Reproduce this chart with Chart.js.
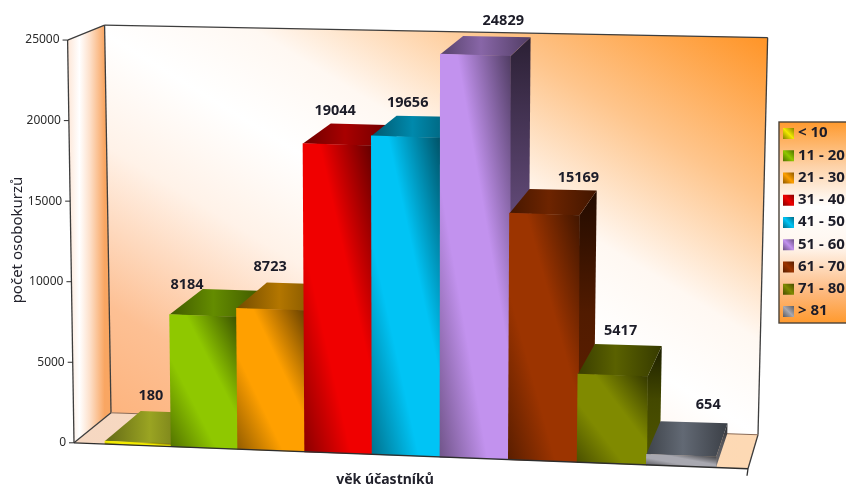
<!DOCTYPE html>
<html>
<head>
<meta charset="utf-8">
<style>
  html, body { margin: 0; padding: 0; background: #fff; overflow: hidden; }
  canvas { display: block; }
</style>
<script src="https://cdn.jsdelivr.net/npm/chart.js@4/dist/chart.umd.js"></script>
</head>
<body>
<canvas id="ageChart" width="846" height="486"></canvas>
<script>
const categories = ["< 10", "11 - 20", "21 - 30", "31 - 40", "41 - 50", "51 - 60", "61 - 70", "71 - 80", "> 81"];
const counts = [180, 8184, 8723, 19044, 19656, 24829, 15169, 5417, 654];
const yTicks = [0, 5000, 10000, 15000, 20000, 25000];
const seriesColors = ["#f2ea00", "#8fc800", "#ffa000", "#f00000", "#00c4f5", "#c292ee", "#9c3400", "#808a00", "#a8a8b0"];
const topColors = ["#dcea30", "#8fc800", "#ffa800", "#f00000", "#00c4f5", "#c292ee", "#9c3400", "#808a00", "#8c96a6"];

// small offsets of the value labels from the middle of each bar's top edge
const labelShiftX = [13, -16, 0, -2, 2, 28, 34, 8, 27];
const labelShiftY = [-47, -31, -43, -34, -34, -34, -36, -45, -51];

const FRONT_LEFT = 74;
const FRONT_RIGHT = 748;

const shade = (hex, f) => {
  const n = parseInt(hex.slice(1), 16);
  const c = [n >> 16, (n >> 8) & 255, n & 255].map((v) => Math.round(v * f));
  return `rgb(${c[0]},${c[1]},${c[2]})`;
};

// gradient whose bands run along the top-left to bottom-right diagonal of a box
const diagonalGradient = (ctx, x, y, w, h, stops) => {
  const len = Math.hypot(w, h);
  const ext = (w * h) / len;
  const nx = h / len;
  const ny = -w / len;
  const cx = x + w / 2;
  const cy = y + h / 2;
  const g = ctx.createLinearGradient(cx - nx * ext, cy - ny * ext, cx + nx * ext, cy + ny * ext);
  stops.forEach(([at, col]) => g.addColorStop(at, col));
  return g;
};

// chart pixels -> tilted box; d is the depth, 0 front plane and 1 back wall
const project = (chart, x, y, d) => {
  const yScale = chart.scales.y;
  const area = chart.chartArea;
  const base = yScale.getPixelForValue(0);
  const h = (base - y) / (base - yScale.getPixelForValue(25000));
  const t = (x - FRONT_LEFT) / (FRONT_RIGHT - FRONT_LEFT);
  const u = Math.min(1, Math.max(0, (x - area.left) / (area.right - area.left)));
  const lean = x < 430 ? 0.018 : 0.024;
  return {
    x: x - 18 * u * (1 - u) + lean * (x - 430) * h + d * (37 - 27 * t + 2 * t * t * h),
    y: y + (0.0385 - 0.008 * h) * (x - 105) - d * ((30 + 4 * t) * (1 - 0.5 * h) + 6 * t * t * h)
  };
};

const poly = (ctx, pts, fill) => {
  ctx.beginPath();
  pts.forEach((p, i) => (i ? ctx.lineTo(p.x, p.y) : ctx.moveTo(p.x, p.y)));
  ctx.closePath();
  ctx.fillStyle = fill;
  ctx.fill();
};

const line = (ctx, a, b) => {
  ctx.beginPath();
  ctx.moveTo(a.x, a.y);
  ctx.lineTo(b.x, b.y);
  ctx.stroke();
};

const frontFill = (context) => {
  const { chart, datasetIndex } = context;
  const color = seriesColors[datasetIndex];
  if (!chart.chartArea) return color;
  const { x, y } = chart.scales;
  const w = x.width / categories.length;
  const top = y.getPixelForValue(counts[datasetIndex]);
  const h = y.getPixelForValue(0) - top;
  return diagonalGradient(chart.ctx, x.getPixelForValue(datasetIndex) - w / 2, top, w, h, [
    [0, shade(color, 0.58)],
    [0.34, color],
    [0.62, color],
    [1, shade(color, 0.42)]
  ]);
};

const box3d = {
  id: "box3d",

  // walls and floor behind the bars
  beforeDatasetsDraw(chart) {
    const { ctx } = chart;
    const y = chart.scales.y;
    const y0 = y.getPixelForValue(0);
    const yMax = y.getPixelForValue(25000);
    const fl0 = project(chart, FRONT_LEFT, y0, 0);
    const fr0 = project(chart, FRONT_RIGHT, y0, 0);
    const flT = project(chart, FRONT_LEFT, yMax, 0);
    const bl0 = project(chart, FRONT_LEFT, y0, 1);
    const br0 = project(chart, FRONT_RIGHT, y0, 1);
    const blT = project(chart, FRONT_LEFT, yMax, 1);
    const brT = project(chart, FRONT_RIGHT, yMax, 1);

    const wallGrad = diagonalGradient(ctx, bl0.x, brT.y, br0.x - bl0.x, br0.y - brT.y, [
      [0, "#fdb27a"],
      [0.16, "#fdc094"],
      [0.36, "#fff2e8"],
      [0.5, "#ffffff"],
      [0.62, "#fff8f2"],
      [0.8, "#fec58c"],
      [1, "#ff962a"]
    ]);
    poly(ctx, [blT, brT, br0, bl0], wallGrad);

    const sideGrad = ctx.createLinearGradient(flT.x, 0, blT.x, 0);
    sideGrad.addColorStop(0, "#fde6d6");
    sideGrad.addColorStop(0.32, "#ffffff");
    sideGrad.addColorStop(0.6, "#fde0ca");
    sideGrad.addColorStop(1, "#f9a662");
    poly(ctx, [flT, blT, bl0, fl0], sideGrad);

    const floorGrad = ctx.createLinearGradient(fl0.x, 0, fr0.x, 0);
    floorGrad.addColorStop(0, "#f6d8c2");
    floorGrad.addColorStop(1, "#fdd9b4");
    poly(ctx, [fl0, bl0, br0, fr0], floorGrad);

    ctx.strokeStyle = "#3d3d3d";
    ctx.lineWidth = 1.3;
    line(ctx, flT, blT);
    line(ctx, blT, brT);
    line(ctx, brT, br0);
    line(ctx, blT, bl0);
    line(ctx, flT, fl0);
    line(ctx, fl0, bl0);
    line(ctx, br0, fr0);
    ctx.strokeStyle = "#8a6a55";
    ctx.lineWidth = 1;
    line(ctx, bl0, br0);
  },

  // top and side of one bar, then tilt the context for the native front face
  beforeDatasetDraw(chart, args) {
    const { ctx } = chart;
    const bar = args.meta.data[args.index];
    const color = seriesColors[args.index];
    const topColor = topColors[args.index];
    const xL = bar.x - bar.width / 2;
    const xR = bar.x + bar.width / 2;
    const tl = project(chart, xL, bar.y, 0);
    const tr = project(chart, xR, bar.y, 0);
    const bl = project(chart, xL, bar.base, 0);
    const backL = project(chart, xL, bar.y, 1);
    const backR = project(chart, xR, bar.y, 1);
    const backB = project(chart, xR, bar.base, 1);
    const br = project(chart, xR, bar.base, 0);

    const sideGrad = ctx.createLinearGradient(0, backR.y, 0, br.y);
    sideGrad.addColorStop(0, shade(color, 0.22));
    sideGrad.addColorStop(0.45, shade(color, 0.52));
    sideGrad.addColorStop(1, shade(color, 0.62));
    poly(ctx, [tr, backR, backB, br], sideGrad);

    const topGrad = ctx.createLinearGradient(tl.x, 0, backR.x, 0);
    topGrad.addColorStop(0, shade(topColor, 0.45));
    topGrad.addColorStop(0.45, shade(topColor, 0.7));
    topGrad.addColorStop(1, shade(topColor, 0.42));
    poly(ctx, [tl, backL, backR, tr], topGrad);

    const w = xR - xL;
    const hgt = bar.base - bar.y;
    const a = (tr.x - tl.x) / w;
    const b = (tr.y - tl.y) / w;
    const c = (bl.x - tl.x) / hgt;
    const d = (bl.y - tl.y) / hgt;
    ctx.save();
    ctx.transform(a, b, c, d, tl.x - a * xL - c * bar.y, tl.y - b * xL - d * bar.y);
  },

  afterDatasetDraw(chart) {
    chart.ctx.restore();
  },

  afterDatasetsDraw(chart) {
    const { ctx } = chart;
    const y = chart.scales.y;
    const y0 = y.getPixelForValue(0);
    const fl0 = project(chart, FRONT_LEFT, y0, 0);
    const fr0 = project(chart, FRONT_RIGHT, y0, 0);

    ctx.strokeStyle = "#2e2e2e";
    ctx.lineWidth = 1.3;
    line(ctx, fl0, fr0);
    line(ctx, fr0, { x: fr0.x - 1, y: fr0.y + 7 });

    // y axis ticks follow the leaning front edge
    ctx.textAlign = "right";
    ctx.textBaseline = "middle";
    ctx.font = "12px 'Noto Sans'";
    yTicks.forEach((v) => {
      const p = project(chart, FRONT_LEFT, y.getPixelForValue(v), 0);
      ctx.strokeStyle = "#2e2e2e";
      ctx.lineWidth = 1;
      line(ctx, { x: p.x - 5, y: p.y }, p);
      ctx.fillStyle = "#2b2b2b";
      ctx.fillText(String(v), p.x - 8, p.y);
    });

    // value labels
    ctx.textAlign = "center";
    ctx.font = "bold 14.5px 'Noto Sans'";
    ctx.fillStyle = "#1c1c28";
    chart.data.datasets.forEach((ds, i) => {
      const bar = chart.getDatasetMeta(i).data[i];
      const p = project(chart, bar.x, bar.y, 0);
      ctx.fillText(String(counts[i]), p.x + labelShiftX[i], p.y + labelShiftY[i]);
    });

    // axis titles
    ctx.font = "bold 14px 'Noto Sans'";
    ctx.fillStyle = "#22222c";
    ctx.fillText("věk účastníků", 385, 480);
    ctx.save();
    ctx.translate(18, 240);
    ctx.rotate(-Math.PI / 2);
    ctx.font = "15px 'Noto Sans'";
    ctx.fillText("počet osobokurzů", 0, 0);
    ctx.restore();

    // legend box, runs off the right edge of the page
    const lg = ctx.createLinearGradient(0, 122, 0, 323);
    lg.addColorStop(0, "#ff9a2e");
    lg.addColorStop(0.22, "#fdd2a8");
    lg.addColorStop(0.42, "#ffffff");
    lg.addColorStop(0.62, "#fff6ee");
    lg.addColorStop(0.85, "#fdb87c");
    lg.addColorStop(1, "#ff9a2e");
    ctx.fillStyle = lg;
    ctx.fillRect(779, 122, 90, 201);
    ctx.strokeStyle = "#4a4238";
    ctx.lineWidth = 1.4;
    ctx.strokeRect(779, 122, 90, 201);

    ctx.textAlign = "left";
    ctx.font = "bold 15px 'Noto Sans'";
    chart.data.datasets.forEach((ds, i) => {
      const cy = 133 + i * 22.25;
      ctx.fillStyle = diagonalGradient(ctx, 783, cy - 5, 11, 11, [
        [0, shade(seriesColors[i], 0.55)],
        [0.5, seriesColors[i]],
        [1, shade(seriesColors[i], 0.55)]
      ]);
      ctx.fillRect(783, cy - 5, 11, 11);
      ctx.fillStyle = "#1c1c28";
      ctx.fillText(ds.label, 798, cy);
    });
  }
};

// one dataset per age group, each filling only its own category
const datasets = categories.map((label, i) => ({
  label,
  data: categories.map((_, j) => (i === j ? counts[i] : null)),
  backgroundColor: frontFill,
  borderWidth: 0,
  grouped: false,
  clip: false,
  order: categories.length - i
}));

new Chart(document.getElementById("ageChart"), {
  type: "bar",
  data: { labels: categories, datasets },
  plugins: [box3d],
  options: {
    responsive: false,
    animation: false,
    barPercentage: 1,
    categoryPercentage: 1,
    layout: { padding: { left: 105, right: 130, top: 41, bottom: 42 } },
    plugins: { legend: { display: false }, tooltip: { enabled: false } },
    scales: {
      x: { display: false },
      y: { display: false, min: 0, max: 25000, ticks: { stepSize: 5000 } }
    }
  }
});
</script>
</body>
</html>
